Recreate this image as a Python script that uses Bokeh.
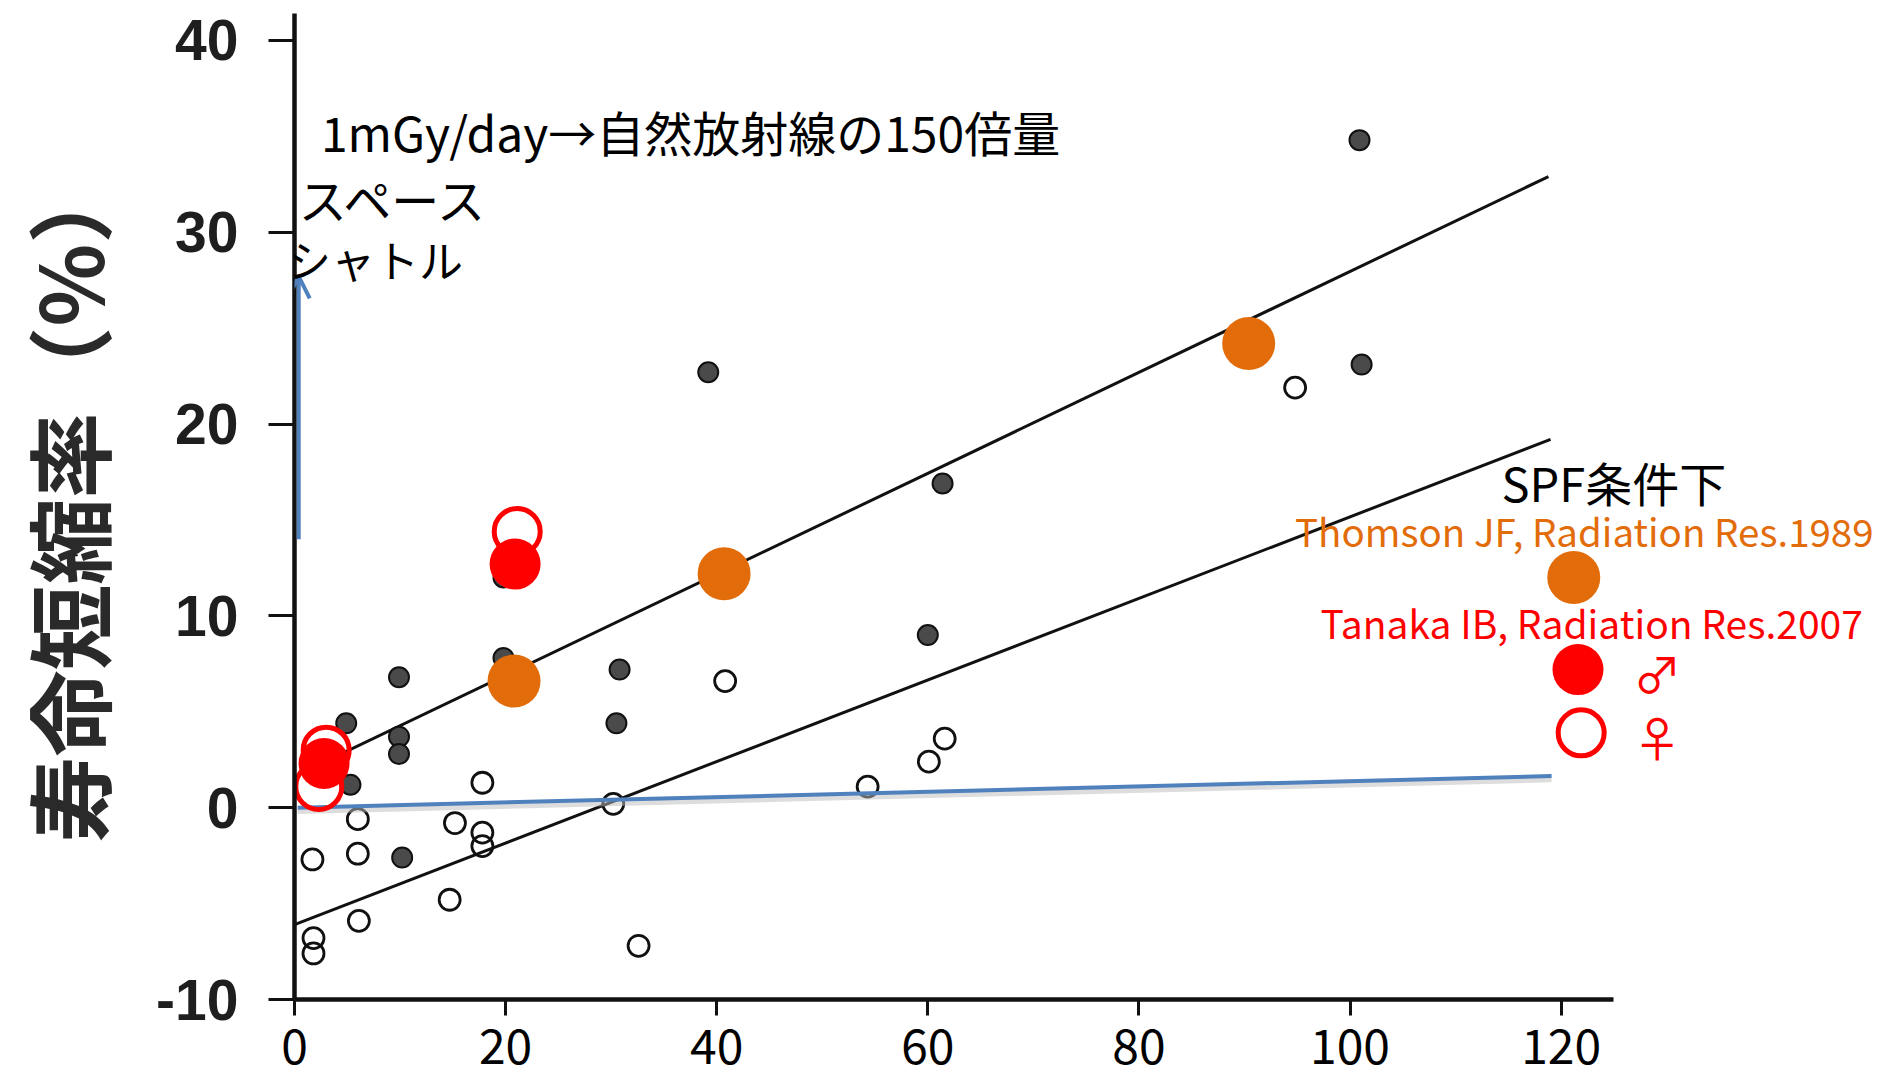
from bokeh.plotting import figure
from bokeh.models import Range1d, Label, Arrow, OpenHead, FixedTicker
from bokeh.embed import file_html
from bokeh.resources import INLINE

# --- dose rate (mGy/day) vs. life-span shortening (%) ---
# original scanned study: filled = male, open = female
male_x = [100.9, 101.1, 39.2, 61.4, 60.0, 30.8, 30.5, 19.8, 19.8, 4.9, 9.9, 9.9, 9.9, 5.3, 10.2]
male_y = [34.8, 23.1, 22.7, 16.9, 9.0, 7.2, 4.4, 7.8, 12.0, 4.4, 6.8, 3.7, 2.8, 1.2, -2.6]
female_x = [17.8, 6.0, 15.2, 17.8, 17.8, 1.7, 6.0, 14.7, 6.1, 1.8, 1.8, 30.2, 32.6, 40.8, 54.3, 60.1, 61.6, 94.8]
female_y = [1.3, -0.6, -0.8, -1.3, -2.0, -2.7, -2.4, -4.8, -5.9, -6.8, -7.6, 0.2, -7.2, 6.6, 1.1, 2.4, 3.6, 21.9]

# fitted regression lines (male upper, female lower)
fit_male_x = [2.5, 118.8]
fit_male_y = [2.3, 32.9]
fit_female_x = [0.0, 119.0]
fit_female_y = [-6.1, 19.2]

# Thomson JF, Radiation Res. 1989 (SPF)
thomson_x = [20.8, 40.7, 90.4]
thomson_y = [6.6, 12.2, 24.2]

# Tanaka IB, Radiation Res. 2007 (SPF)
tanaka_m_x = [2.8, 20.9]
tanaka_m_y = [2.3, 12.7]
tanaka_f_x = [3.0, 2.3, 21.1]
tanaka_f_y = [3.0, 1.1, 14.4]

# reference: natural background level line
natural_x = [0.3, 119.1]
natural_y = [0.0, 1.65]

x_ticks = [0, 20, 40, 60, 80, 100, 120]
y_ticks = [-10, 0, 10, 20, 30, 40]
y_tick_text = {-10: "-10", 0: "0", 10: "10", 20: "20", 30: "30", 40: "40"}

ORANGE = "#E36C0A"
RED = "#FF0000"
BLUE = "#4F81BD"
JP = "Noto Sans CJK JP"

p = figure(width=1899, height=1076,
           x_range=Range1d(0, 152.06), y_range=Range1d(-10, 42.08),
           output_backend="svg", toolbar_location=None,
           min_border_left=294, min_border_right=0,
           min_border_top=0, min_border_bottom=77)
p.grid.visible = False
p.outline_line_color = None
p.background_fill_color = "white"

# axes
xa = p.xaxis[0]
xa.ticker = FixedTicker(ticks=x_ticks)
xa.bounds = (0, 125)
xa.axis_line_width = 4.5
xa.axis_line_color = "#111111"
xa.major_tick_line_width = 3
xa.major_tick_line_color = "#111111"
xa.major_tick_out = 16
xa.major_tick_in = 0
xa.minor_tick_line_color = None
xa.major_label_text_font = JP
xa.major_label_text_font_size = "48px"
xa.major_label_text_color = "black"
xa.major_label_standoff = 13

ya = p.yaxis[0]
ya.ticker = FixedTicker(ticks=y_ticks)
ya.major_label_overrides = y_tick_text
ya.bounds = (-10, 41.4)
ya.axis_line_width = 4.5
ya.axis_line_color = "#111111"
ya.major_tick_line_width = 3
ya.major_tick_line_color = "#111111"
ya.major_tick_out = 26
ya.major_tick_in = 0
ya.minor_tick_line_color = None
ya.major_label_text_font = "Liberation Sans"
ya.major_label_text_font_style = "bold"
ya.major_label_text_font_size = "57px"
ya.major_label_text_color = "#1e1e1e"
ya.major_label_standoff = 30
ya.axis_label = "寿命短縮率（%）"
ya.axis_label_text_font = JP
ya.axis_label_text_font_style = "bold"
ya.axis_label_text_font_size = "86px"
ya.axis_label_text_color = "#2a2a2a"
ya.axis_label_standoff = 24

# scanned regression lines and points
p.line(fit_male_x, fit_male_y, line_color="#111111", line_width=3)
p.line(fit_female_x, fit_female_y, line_color="#111111", line_width=3)
p.scatter(male_x, male_y, size=20, fill_color="#4a4a4a", line_color="#111111", line_width=2)
p.scatter(female_x, female_y, size=21, fill_color=None, line_color="#111111", line_width=2.8)

# natural background line with soft shadow
p.line(natural_x, [v - 0.2 for v in natural_y], line_color="#bbbbbb", line_width=5, line_alpha=0.5)
p.line(natural_x, natural_y, line_color=BLUE, line_width=4)

# space shuttle arrow
p.add_layout(Arrow(end=OpenHead(size=22, line_color=BLUE, line_width=4),
                   x_start=0.4, y_start=14.0, x_end=0.4, y_end=27.7,
                   line_color=BLUE, line_width=4))

# overlay studies
p.scatter(thomson_x, thomson_y, size=53, fill_color=ORANGE, line_color=None)
p.scatter(tanaka_f_x, tanaka_f_y, size=46, fill_color=None, line_color=RED, line_width=5)
p.scatter(tanaka_m_x, tanaka_m_y, size=51, fill_color=RED, line_color=None)

# key markers at the right
p.scatter([121.2], [12.0], size=53, fill_color=ORANGE, line_color=None)
p.scatter([121.6], [7.2], size=51, fill_color=RED, line_color=None)
p.scatter([121.9], [3.9], size=46, fill_color=None, line_color=RED, line_width=5)

def note(x, y, text, size, color="black", align="left"):
    p.add_layout(Label(x=x, y=y, text=text, text_font=JP, text_font_size=size,
                       text_color=color, text_align=align, text_baseline="middle"))

note(2.5, 35.3, "1mGy/day→自然放射線の150倍量", "48px")
note(0.4, 31.8, "スペース", "48px")
note(-0.7, 28.6, "シャトル", "44px")
note(125.0, 17.0, "SPF条件下", "47px", align="center")
note(122.2, 14.5, "Thomson JF, Radiation Res.1989", "38.5px", ORANGE, "center")
note(122.9, 9.7, "Tanaka IB, Radiation Res.2007", "39px", RED, "center")
note(129.1, 7.05, "♂", "48px", RED, "center")
note(129.1, 3.76, "♀", "48px", RED, "center")

open("out.html", "w").write(file_html(p, INLINE))
